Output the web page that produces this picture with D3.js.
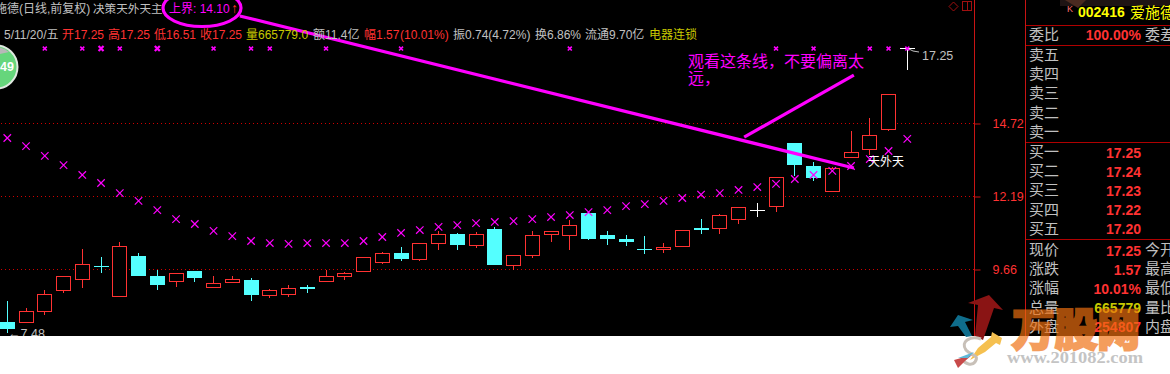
<!DOCTYPE html>
<html lang="zh">
<head>
<meta charset="UTF-8">
<title>爱施德 日线</title>
<script src="https://d3js.org/d3.v7.min.js"></script>
<style>
  html, body { margin: 0; padding: 0; background: #fff; overflow: hidden; }
  svg { display: block; }
  text { font-family: "Liberation Sans", "Noto Sans CJK SC", sans-serif; font-size: 12px; }
  .cjk { font-family: "Noto Sans CJK SC", sans-serif; }
</style>
</head>
<body>
<svg id="chart" width="1170" height="374"></svg>
<script>
// daily candles, values
const opens  = [7.82,7.80,8.18,8.91,9.29,9.76,8.73,10.11,9.42,9.22,9.59,9.01,9.22,9.28,8.73,8.77,9.04,9.22,9.39,9.60,9.88,10.21,9.98,10.54,10.87,10.47,11.05,9.77,10.12,10.88,10.81,11.60,10.84,10.70,10.32,10.32,10.43,11.08,11.06,11.37,11.70,11.82,14.03,13.23,12.34,13.52,13.79,14.50,17.31];
const closes = [7.59,8.19,8.78,9.41,9.82,9.75,10.45,9.42,9.10,9.49,9.35,9.16,9.31,8.76,8.92,8.97,8.97,9.41,9.49,10.07,10.20,10.01,10.55,10.86,10.49,10.86,9.80,10.13,10.83,10.97,11.17,10.70,10.70,10.60,10.31,10.39,11.00,11.02,11.52,11.80,11.70,12.84,13.26,12.81,13.15,13.70,14.29,15.70,17.31];
const highs  = [8.55,8.31,8.93,9.41,10.34,10.07,10.60,10.21,9.63,9.49,9.59,9.42,9.42,9.35,8.97,9.10,9.10,9.64,9.56,10.07,10.25,10.42,10.55,10.98,10.91,10.94,11.12,10.13,10.98,10.97,11.36,11.60,10.98,10.84,10.80,10.56,11.00,11.39,11.57,11.80,11.95,12.84,14.03,13.37,13.20,14.44,14.89,15.70,17.31];
const lows   = [7.44,7.80,8.07,8.83,9.00,9.52,8.73,9.42,8.93,9.03,9.21,9.01,9.22,8.55,8.65,8.69,8.83,9.22,9.28,9.60,9.84,9.94,9.94,10.32,10.32,10.39,9.80,9.63,10.04,10.60,10.32,10.67,10.49,10.46,10.18,10.21,10.43,10.87,10.87,11.22,11.46,11.63,12.88,12.71,12.34,13.52,13.62,14.44,16.56];

// 决策天外天主 indicator: the lower x curve and the x row along the top
const curve = [14.20,13.92,13.58,13.26,12.92,12.64,12.29,12.02,11.70,11.39,11.22,10.98,10.80,10.63,10.56,10.53,10.56,10.56,10.56,10.63,10.77,10.91,11.01,11.12,11.18,11.25,11.29,11.32,11.39,11.46,11.53,11.63,11.70,11.84,11.91,12.02,12.12,12.24,12.29,12.40,12.50,12.61,12.78,12.92,13.06,13.23,13.47,13.75,14.17];
const topIdx = [2,4,5,6,8,11,13,14,17,21,30,41,43,46,47,48];
const topBig = [5,8];
const topLevel = 17.30;

const axisPrices = [14.72, 12.19, 9.66];

// hand drawn lines, [candle index, price]
const trendLine = [[12.4, 18.43], [45.15, 13.16]];
const pointerLine = [[39.3, 14.23], [45.15, 16.38]];

// right panel
const sellLabels = ["卖五","卖四","卖三","卖二","卖一"];
const buyLabels  = ["买一","买二","买三","买四","买五"];
const buyPrices  = ["17.25","17.24","17.23","17.22","17.20"];
const quoteLabels = ["现价","涨跌","涨幅","总量","外盘"];
const quoteValues = ["17.25","1.57","10.01%","665779","254807"];
const quoteColors = ["#ff3232","#ff3232","#ff3232","#c8c800","#ff3232"];
const quoteRight  = ["今开","最高","最低","量比","内盘"];

// header row 2 pieces
const infoRow = [
  ["5/11/20/五", 4, "#c0c0c0"], ["开17.25", 62, "#ff3232"], ["高17.25", 108, "#ff3232"],
  ["低16.51", 154, "#ff3232"], ["收17.25", 200, "#ff3232"], ["量665779.0", 246, "#c8c800"],
  ["额11.4亿", 313, "#c0c0c0"], ["幅1.57", 364, "#ff3232"], ["(10.01%)", 400, "#ff3232"],
  ["振0.74(4.72%)", 453, "#c0c0c0"], ["换6.86%", 535, "#c0c0c0"], ["流通9.70亿", 585, "#c0c0c0"],
  ["电器连锁", 649, "#c8c800"]
];

const RED = "#ff3232", CYAN = "#54ffff", MAG = "#ff00ff", GREY = "#c0c0c0";

const svg = d3.select("#chart");
const x = d3.scaleLinear().domain([0, 48]).range([7.3, 907.3]);
const y = d3.scaleLinear().domain([14.72, 9.66]).range([123, 269]);
const px = v => Math.floor(v) + 0.5;

const candles = opens.map((o, i) => ({ i, o, c: closes[i], h: highs[i], l: lows[i] }));
const colour = d => d.c > d.o ? RED : d.c < d.o ? CYAN : "#fff";

svg.append("rect").attr("width", 1170).attr("height", 336).attr("fill", "#000");

// grid
svg.append("g").selectAll("line").data(axisPrices).join("line")
  .attr("x1", 1).attr("x2", 974)
  .attr("y1", d => px(y(d))).attr("y2", d => px(y(d)))
  .attr("stroke", "#d00000").attr("stroke-dasharray", "1 3")
  .attr("shape-rendering", "crispEdges");

// candles
const gc = svg.append("g").attr("shape-rendering", "crispEdges");
const one = gc.selectAll("g").data(candles).join("g");
one.append("line")
  .attr("x1", d => px(x(d.i))).attr("x2", d => px(x(d.i)))
  .attr("y1", d => y(d.h)).attr("y2", d => y(d.l))
  .attr("stroke", colour);
one.each(function (d) {
  const g = d3.select(this), cx = Math.floor(x(d.i));
  const top = y(Math.max(d.o, d.c)), bot = y(Math.min(d.o, d.c));
  if (bot - top < 1) {
    g.append("line").attr("x1", cx - 7).attr("x2", cx + 8)
      .attr("y1", px(top)).attr("y2", px(top)).attr("stroke", colour(d));
  } else if (d.c > d.o) {
    g.append("rect").attr("x", cx - 7 + 0.5).attr("width", 14)
      .attr("y", px(top)).attr("height", Math.round(bot - top))
      .attr("fill", "#000").attr("stroke", RED);
  } else {
    g.append("rect").attr("x", cx - 7).attr("width", 15)
      .attr("y", Math.round(top)).attr("height", Math.round(bot - top))
      .attr("fill", CYAN);
  }
});

// x marks
const times = s => d3.symbol(d3.symbolTimes, s)();
svg.append("g").selectAll("path").data(curve).join("path")
  .attr("d", times(38))
  .attr("transform", (d, i) => `translate(${x(i)},${y(d)})`)
  .attr("fill", "none").attr("stroke", MAG).attr("stroke-width", 1.2);
svg.append("g").selectAll("path").data(topIdx).join("path")
  .attr("d", d => times(topBig.includes(d) ? 18 : 12))
  .attr("transform", d => `translate(${x(d)},${y(topLevel)})`)
  .attr("fill", "none").attr("stroke", MAG).attr("stroke-width", d => topBig.includes(d) ? 2.2 : 1.6);

// axis
svg.append("line").attr("x1", 974.5).attr("x2", 974.5).attr("y1", 0).attr("y2", 336)
  .attr("stroke", "#c81414").attr("stroke-width", 1);
const axis = svg.append("g").attr("transform", "translate(974.5,0.5)")
  .call(d3.axisRight(y).tickValues(axisPrices).tickSize(6).tickPadding(12).tickFormat(d3.format(".2f")));
axis.select(".domain").remove();
axis.selectAll("line").attr("stroke", "#c81414");
axis.selectAll("text").attr("fill", RED).style("font-size", "12.5px");

// annotations
const seg = d3.line().x(d => x(d[0])).y(d => y(d[1]));
svg.append("path").attr("d", seg(trendLine)).attr("stroke", MAG).attr("stroke-width", 3.2).attr("fill", "none");
svg.append("path").attr("d", seg(pointerLine)).attr("stroke", MAG).attr("stroke-width", 3.2).attr("fill", "none");
svg.append("ellipse").attr("cx", 202).attr("cy", 8).attr("rx", 39).attr("ry", 18.5)
  .attr("fill", "none").attr("stroke", MAG).attr("stroke-width", 3.2);

function put(str, tx, ty, fill, size, extra) {
  const t = svg.append("text").attr("x", tx).attr("y", ty).attr("fill", fill).text(str);
  if (size) t.style("font-size", size + "px");
  if (extra) extra(t);
  return t;
}

// header
put("施德(日线,前复权)", -5, 13, GREY);
put("决策天外天主", 93, 13, GREY, 11.6);
put("上界: 14.10", 169, 13, MAG);
put("↑", 231, 13, RED, 14);
infoRow.forEach(d => put(d[0], d[1], 39, d[2]));

// green badge
svg.append("circle").attr("cx", -4).attr("cy", 67).attr("r", 21.5).attr("fill", "#66d67c").attr("stroke", "#e0e8e0").attr("stroke-width", 2);
svg.append("path").attr("d", "M-4,47 A20,20 0 0 1 9,52 L0,54 Z").attr("fill", "#b8b8b8");
put("49", 0, 71, "#fff", 12.5, t => t.attr("font-weight", "bold"));

// chart notes
put("观看这条线，不要偏离太", 688, 67, MAG, 16, t => t.attr("class", "cjk"));
put("远，", 688, 84, MAG, 16, t => t.attr("class", "cjk"));
put("天外天", 868, 166, "#fff", 12);
put("17.25", 922, 60, GREY, 12.5);
svg.append("path").attr("d", "M909,49 L913,51 L919,52").attr("stroke", GREY).attr("fill", "none");
put("←7.48", 8, 338, GREY, 12.5);

// top right icons
svg.append("path").attr("d", "M953.5,2 L958,6.5 L953.5,11 L949,6.5 Z").attr("fill", "none").attr("stroke", "#a01010");
svg.append("rect").attr("x", 962.5).attr("y", 1.5).attr("width", 9).attr("height", 9).attr("fill", "none").attr("stroke", "#a01010");
svg.append("line").attr("x1", 967.5).attr("x2", 967.5).attr("y1", 1).attr("y2", 11).attr("stroke", "#a01010");

// right panel
const panelRules = [25.5, 45.5, 142.5, 239.5];
svg.append("line").attr("x1", 1025.5).attr("x2", 1025.5).attr("y1", 0).attr("y2", 336).attr("stroke", "#c81414");
svg.append("g").selectAll("line").data(panelRules).join("line")
  .attr("x1", 1026).attr("x2", 1170).attr("y1", d => d).attr("y2", d => d).attr("stroke", "#b00000");

svg.append("rect").attr("x", 1060).attr("y", 0).attr("width", 110).attr("height", 6).attr("fill", "#1e1414");
svg.append("path").attr("d", "M1065,0 L1086,0 L1078,8 Z").attr("fill", "#4a2a20");
put("K", 1067, 12, "#ff7070", 9);
put("002416", 1078, 17, "#ffff00", 14, t => t.attr("font-weight", "bold"));
put("爱施德", 1130, 18, "#ffff00", 15);

const rowLabel = (s, ty, tx) => put(s, tx || 1029, ty, GREY, 15, t => t.attr("class", "cjk"));
const rowValue = (s, ty, c) => put(s, 1141, ty, c, 14, t => t.attr("text-anchor", "end").attr("font-weight", "bold"));

rowLabel("委比", 40);
rowValue("100.00%", 40, RED);
rowLabel("委差", 40, 1145);
sellLabels.forEach((s, i) => rowLabel(s, 60 + i * 19.2));
buyLabels.forEach((s, i) => {
  rowLabel(s, 157 + i * 19.2);
  rowValue(buyPrices[i], 157.5 + i * 19.2, RED);
});
quoteLabels.forEach((s, i) => {
  rowLabel(s, 255 + i * 19.2);
  rowValue(quoteValues[i], 255.5 + i * 19.2, quoteColors[i]);
  rowLabel(quoteRight[i], 255 + i * 19.2, 1145);
});

// white strip under the screenshot, then the site logo
svg.append("rect").attr("y", 336).attr("width", 1170).attr("height", 38).attr("fill", "#fff");

const logo = svg.append("g");
logo.append("path").attr("d", "M989,295 L1003,310 L994,308 L983,340 L975,336 L978,305 L968,303 Z").attr("fill", "#8a1414");
logo.append("path").attr("d", "M958,315 L973,320 L965,322 L972,336 L966,337 L958,326 L950,327 Z").attr("fill", "#0f6d8c");
logo.append("path").attr("d", "M1002,338 L992,332 L991,337 L978,348 L970,360 L985,352 L996,343 L1000,345 Z").attr("fill", "#f5c050");
logo.append("path").attr("d", "M981,339 C970,335 960,342 966,350 C971,356 980,354 975,362 C972,366 965,364 963,360")
  .attr("fill", "none").attr("stroke", "#c8c0b8").attr("stroke-width", 3);
logo.append("path").attr("d", "M954,360 L972,355 L965,361 L958,368 Z").attr("fill", "#c84a4a");
logo.append("path").attr("d", "M958,358 L974,352 L968,358 Z").attr("fill", "#60b8d8");

logo.append("text").attr("x", 1012).attr("y", 346).attr("class", "cjk")
  .attr("font-weight", "900").attr("textLength", 128).attr("lengthAdjust", "spacingAndGlyphs")
  .text("万股网").style("font-size", "44px")
  .attr("fill", "#f07010").attr("stroke", "#f07010").attr("stroke-width", 2.5)
  .attr("opacity", 0.68);

logo.append("text").attr("x", 1007).attr("y", 363).attr("textLength", 136).attr("lengthAdjust", "spacingAndGlyphs")
  .attr("font-weight", "bold").attr("fill", "#c4c4c4")
  .style("font-family", "'Liberation Serif', serif").style("font-size", "17px")
  .text("www.201082.com");
</script>
</body>
</html>
